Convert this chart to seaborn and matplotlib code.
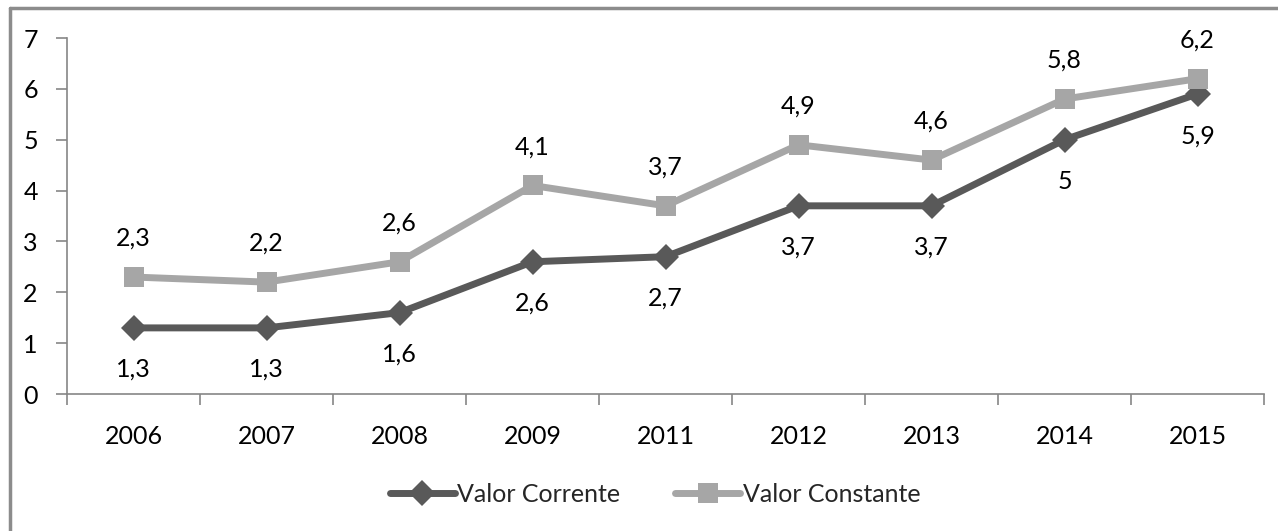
import matplotlib
matplotlib.use("Agg")
import matplotlib.pyplot as plt
import seaborn as sns
import pandas as pd
from matplotlib.lines import Line2D

years = ["2006", "2007", "2008", "2009", "2011", "2012", "2013", "2014", "2015"]
valor_corrente = [1.3, 1.3, 1.6, 2.6, 2.7, 3.7, 3.7, 5.0, 5.9]
valor_constante = [2.3, 2.2, 2.6, 4.1, 3.7, 4.9, 4.6, 5.8, 6.2]
series_names = ["Valor Corrente", "Valor Constante"]
y_ticks = [0, 1, 2, 3, 4, 5, 6, 7]

df = pd.DataFrame({
    "ano": years * 2,
    "valor": valor_corrente + valor_constante,
    "serie": [series_names[0]] * len(years) + [series_names[1]] * len(years),
})

sns.set_theme(style="white")
plt.rcParams["font.family"] = ["Lato", "DejaVu Sans"]

dark = "#595959"
light = "#A6A6A6"
axis_col = "#868686"
fs = 18

fig = plt.figure(figsize=(12.78, 5.31), dpi=100)
ax = fig.add_axes([67 / 1278, 1 - 394 / 531, (1264 - 67) / 1278, (394 - 38) / 531])

sns.lineplot(
    data=df, x="ano", y="valor", hue="serie", style="serie",
    palette={series_names[0]: dark, series_names[1]: light},
    markers={series_names[0]: "D", series_names[1]: "s"},
    dashes=False, linewidth=5, markersize=15, markeredgewidth=0,
    ax=ax, legend=False, sort=False,
)
ax.lines[0].set_markersize(13)

fmt = lambda v: (f"{v:g}").replace(".", ",")
for i, v in enumerate(valor_corrente):
    ax.annotate(fmt(v), (i, v), xytext=(0, -30), textcoords="offset points",
                ha="center", va="center", fontsize=fs, color="black")
for i, v in enumerate(valor_constante):
    ax.annotate(fmt(v), (i, v), xytext=(0, 28), textcoords="offset points",
                ha="center", va="center", fontsize=fs, color="black")

ax.set_xlim(-0.5, len(years) - 0.5)
ax.set_ylim(0, 7)
ax.set_yticks(y_ticks)
ax.set_yticklabels([str(t) for t in y_ticks])
ax.set_xticks(range(len(years)))
ax.set_xticklabels(years)
ax.set_xticks([i - 0.5 for i in range(len(years) + 1)], minor=True)
ax.tick_params(axis="x", which="major", length=0, pad=22, labelsize=fs, colors="black")
ax.tick_params(axis="x", which="minor", length=8, width=1.2, color=axis_col, direction="out", bottom=True)
ax.tick_params(axis="y", which="major", length=8, width=1.2, color=axis_col, direction="out",
               left=True, pad=13, labelsize=fs, labelcolor="black")

for side in ["top", "right"]:
    ax.spines[side].set_visible(False)
for side in ["left", "bottom"]:
    ax.spines[side].set_color(axis_col)
    ax.spines[side].set_linewidth(1.2)
ax.set_xlabel("")
ax.set_ylabel("")

handles = [
    Line2D([], [], color=dark, lw=5, marker="D", markersize=13, markeredgewidth=0),
    Line2D([], [], color=light, lw=5, marker="s", markersize=15, markeredgewidth=0),
]
fig.legend(handles, series_names, loc="center", bbox_to_anchor=(655 / 1278, 1 - 494 / 531),
           ncol=2, frameon=False, fontsize=fs, handlelength=2.6, handletextpad=0.1,
           columnspacing=2.2)

# frame edges along the top and left of the figure
fig.add_artist(Line2D([10 / 1278, 1], [1 - 8 / 531, 1 - 8 / 531], transform=fig.transFigure,
                      color="#8C8C8C", linewidth=2.5))
fig.add_artist(Line2D([10 / 1278, 10 / 1278], [0, 1 - 8 / 531], transform=fig.transFigure,
                      color="#8C8C8C", linewidth=2.5))

fig.savefig("out.png", dpi=100)
